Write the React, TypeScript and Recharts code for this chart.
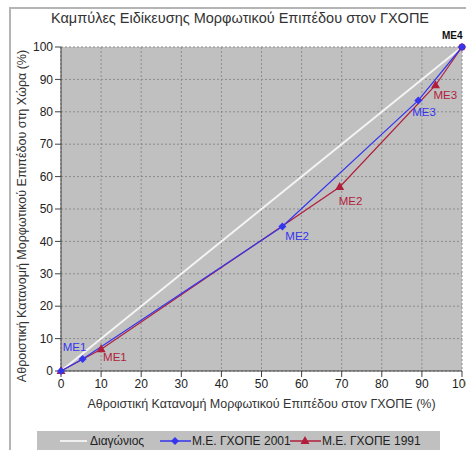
import { CartesianGrid, ComposedChart, Label, Line, XAxis, YAxis } from 'recharts';

// Τίτλοι και ετικέτες
const TITLE = 'Καμπύλες Ειδίκευσης Μορφωτικού Επιπέδου στον ΓΧΟΠΕ';
const X_LABEL = 'Αθροιστική Κατανομή Μορφωτικού Επιπέδου στον ΓΧΟΠΕ (%)';
const Y_LABEL = 'Αθροιστική Κατανομή Μορφωτικού Επιπέδου στη Χώρα (%)';
const TICKS = [0, 10, 20, 30, 40, 50, 60, 70, 80, 90, 100];

const SERIES_NAMES = ['Διαγώνιος', 'Μ.Ε. ΓΧΟΠΕ 2001', 'Μ.Ε. ΓΧΟΠΕ 1991'];

// Διαγώνιος
const DIAG_X = [0, 100];
const DIAG_Y = [0, 100];

// ΓΧΟΠΕ 2001
const X_2001 = [0, 5.4, 55.2, 89.1, 100];
const Y_2001 = [0, 3.7, 44.6, 83.5, 100];
const LABELS_2001 = ['', 'ME1', 'ME2', 'ME3', ''];

// ΓΧΟΠΕ 1991
const X_1991 = [0, 10, 69.5, 93.4, 100];
const Y_1991 = [0, 6.7, 56.8, 88.2, 100];
const LABELS_1991 = ['', 'ME1', 'ME2', 'ME3', 'ME4'];

const BLUE = '#3535ee';
const RED = '#b01e3c';

const toPoints = (xs: number[], ys: number[], labels?: string[]) =>
  xs.map((x, i) => ({ x, y: ys[i], label: labels ? labels[i] : '' }));

const diagData = toPoints(DIAG_X, DIAG_Y);
const data2001 = toPoints(X_2001, Y_2001, LABELS_2001);
const data1991 = toPoints(X_1991, Y_1991, LABELS_1991);

// θέση ετικετών σε σχέση με το σημείο
const OFFS_2001: Record<string, [number, number]> = {
  ME1: [-20, -8],
  ME2: [3, 14],
  ME3: [-6, 16],
};
const OFFS_1991: Record<string, [number, number]> = {
  ME1: [2, 12],
  ME2: [-1, 18],
  ME3: [-2, 14],
  ME4: [-20, -8],
};

const Diamond = (props: any) => {
  const { cx, cy } = props;
  if (cx == null || cy == null) return null;
  return <path d={`M${cx},${cy - 4}L${cx + 4},${cy}L${cx},${cy + 4}L${cx - 4},${cy}Z`} fill={BLUE} />;
};

const Triangle = (props: any) => {
  const { cx, cy, payload } = props;
  if (cx == null || cy == null) return null;
  if (payload && payload.x === 100) return <circle cx={cx} cy={cy} r={3.5} fill="#a0104a" />;
  return <path d={`M${cx},${cy - 5}L${cx + 4.5},${cy + 3}L${cx - 4.5},${cy + 3}Z`} fill={RED} />;
};

const makeLabel = (data: any[], offs: Record<string, [number, number]>, color: string) => (props: any) => {
  const { x, y, index } = props;
  const name = data[index]?.label;
  if (!name) return null;
  const o = offs[name];
  const isTop = name === 'ME4';
  return (
    <text
      x={x + o[0]}
      y={y + o[1]}
      fill={isTop ? '#111' : color}
      fontSize={isTop ? 10 : 11.5}
      fontWeight={isTop ? 'bold' : 'normal'}
    >
      {name}
    </text>
  );
};

export default function App() {
  return (
    <div style={{ position: 'absolute', left: 0, top: 0, width: 466, height: 450, background: '#fff', fontFamily: '"Liberation Sans", Arial, sans-serif' }}>
      <div style={{ position: 'absolute', left: 9, top: 7, width: 457, height: 443, borderLeft: '2px solid #b4b4b4', borderTop: '2px solid #b4b4b4' }} />
      <div style={{ position: 'absolute', left: 0, top: 10, width: 480, textAlign: 'center', fontSize: 14.5, color: '#333' }}>{TITLE}</div>
      <div style={{ position: 'absolute', left: 0, top: 0 }}>
        <ComposedChart width={466} height={450} margin={{ top: 47, right: 4, left: 0, bottom: 39 }}>
          <CartesianGrid fill="#c0c0c0" stroke="#8c8c8c" strokeDasharray="2 2" />
          <XAxis
            type="number"
            dataKey="x"
            domain={[0, 100]}
            ticks={TICKS}
            height={40}
            tickSize={6}
            tickMargin={2}
            stroke="#404040"
            tick={{ fill: '#222', fontSize: 12 }}
            interval={0}
          >
            <Label value={X_LABEL} position="insideBottom" offset={3} fill="#333" fontSize={12.5} />
          </XAxis>
          <YAxis
            type="number"
            dataKey="y"
            domain={[0, 100]}
            ticks={TICKS}
            width={61}
            tickSize={6}
            tickMargin={2}
            stroke="#404040"
            tick={{ fill: '#222', fontSize: 12 }}
            interval={0}
          >
            <Label
              content={() => (
                <text x={26} y={216} transform="rotate(-90 26 216)" textAnchor="middle" fill="#333" fontSize={12.5}>
                  {Y_LABEL}
                </text>
              )}
            />
          </YAxis>
          <Line data={diagData} dataKey="y" stroke="#f4f4f4" strokeWidth={2} dot={false} isAnimationActive={false} name={SERIES_NAMES[0]} />
          <Line
            data={data1991}
            dataKey="y"
            stroke={RED}
            strokeWidth={1.2}
            dot={<Triangle />}
            isAnimationActive={false}
            name={SERIES_NAMES[2]}
            label={makeLabel(data1991, OFFS_1991, RED)}
          />
          <Line
            data={data2001}
            dataKey="y"
            stroke={BLUE}
            strokeWidth={1.2}
            dot={<Diamond />}
            isAnimationActive={false}
            name={SERIES_NAMES[1]}
            label={makeLabel(data2001, OFFS_2001, BLUE)}
          />
        </ComposedChart>
      </div>
      {/* Υπόμνημα */}
      <div style={{ position: 'absolute', left: 37, top: 431, width: 403, height: 19, background: '#c0c0c0' }}>
        <svg width={403} height={19} style={{ position: 'absolute', left: 0, top: 0 }}>
          <line x1={23} x2={50} y1={10} y2={10} stroke="#fff" strokeWidth={1.5} />
          <text x={53} y={14} fill="#222" fontSize={12}>{SERIES_NAMES[0]}</text>
          <line x1={123} x2={154} y1={10} y2={10} stroke={BLUE} strokeWidth={1.5} />
          <path d="M138,6L142,10L138,14L134,10Z" fill={BLUE} />
          <text x={155} y={14} fill="#222" fontSize={12}>{SERIES_NAMES[1]}</text>
          <line x1={253} x2={284} y1={10} y2={10} stroke={RED} strokeWidth={1.5} />
          <path d="M268,5L272.5,13L263.5,13Z" fill={RED} />
          <text x={285} y={14} fill="#222" fontSize={12}>{SERIES_NAMES[2]}</text>
        </svg>
      </div>
    </div>
  );
}
